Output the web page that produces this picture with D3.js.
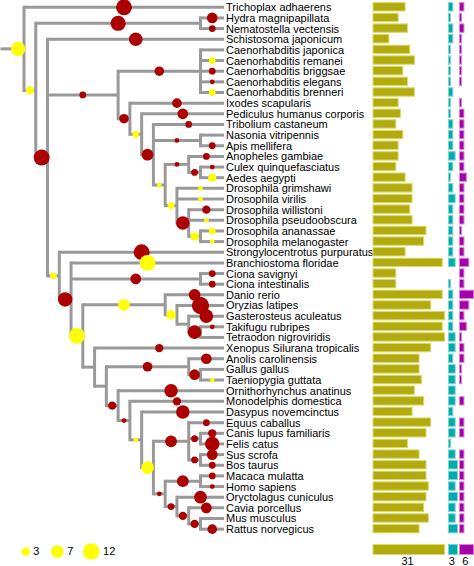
<!DOCTYPE html>
<html><head><meta charset="utf-8">
<script src="https://cdn.jsdelivr.net/npm/d3@7/dist/d3.min.js"></script>
<style>body{margin:0;background:#fff}svg{display:block}</style>
</head><body>
<svg id="chart" width="474" height="566"></svg>
<script>
// ---------- DATA ----------
const species = ["Trichoplax adhaerens","Hydra magnipapillata","Nematostella vectensis","Schistosoma japonicum",
"Caenorhabditis japonica","Caenorhabditis remanei","Caenorhabditis briggsae","Caenorhabditis elegans","Caenorhabditis brenneri",
"Ixodes scapularis","Pediculus humanus corporis","Tribolium castaneum","Nasonia vitripennis","Apis mellifera",
"Anopheles gambiae","Culex quinquefasciatus","Aedes aegypti","Drosophila grimshawi","Drosophila virilis",
"Drosophila willistoni","Drosophila pseudoobscura","Drosophila ananassae","Drosophila melanogaster",
"Strongylocentrotus purpuratus","Branchiostoma floridae","Ciona savignyi","Ciona intestinalis","Danio rerio",
"Oryzias latipes","Gasterosteus aculeatus","Takifugu rubripes","Tetraodon nigroviridis","Xenopus Silurana tropicalis",
"Anolis carolinensis","Gallus gallus","Taeniopygia guttata","Ornithorhynchus anatinus","Monodelphis domestica",
"Dasypus novemcinctus","Equus caballus","Canis lupus familiaris","Felis catus","Sus scrofa","Bos taurus",
"Macaca mulatta","Homo sapiens","Oryctolagus cuniculus","Cavia porcellus","Mus musculus","Rattus norvegicus"];

const oliveValues = [14,11,15,7,16,18,13,15,18,11, 12,10,13,11,11,10,14,17,17,16, 17,23,22,14,30,10,10,30,25,31, 30,31,25,20,20,21,18,22,17,25, 23,15,20,23,23,24,23,22,24,20];
const cyanValues = [1.5,0.75,1.5,1.5,0.75,0.75,0.75,0.75,1.5,0.75, 0.75,1.5,1.5,1.5,2.25,1.5,0.75,1.5,2.25,1.5, 1.5,1.5,1.5,1.5,2.25,0,0.75,1.5,1.5,1.5, 1.5,2.25,2.25,1.5,2.25,2.25,2.25,2.25,1.5,2.25, 2.25,0.75,2.25,3,3,2.25,3,2.25,2.25,3];
const magentaValues = [2,1,2,1,1,1,1,1,0,1, 2,2,2,2,2,2,3,2,2,2, 2,1,2,2,4,2,2,6,4,2, 3,1,2,2,1,1,0,2,0,2, 2,0,2,2,2,2,2,2,2,2];
const columnMax = [31, 3, 6];
const legendSizes = [3, 7, 12];

// tree topology: [clade, children...]
const clades = [
 ["root","Trichoplax adhaerens","n1"],
 ["n1","n2","n3"],
 ["n2","Hydra magnipapillata","Nematostella vectensis"],
 ["n3","Schistosoma japonicum","ecd","deu"],
 ["ecd","cae","art"],
 ["cae","Caenorhabditis japonica","Caenorhabditis remanei","Caenorhabditis briggsae","Caenorhabditis elegans","Caenorhabditis brenneri"],
 ["art","Ixodes scapularis","pan"],
 ["pan","Pediculus humanus corporis","hol"],
 ["hol","Tribolium castaneum","hym","dip"],
 ["hym","Nasonia vitripennis","Apis mellifera"],
 ["dip","mos","dro"],
 ["mos","Anopheles gambiae","cul"],
 ["cul","Culex quinquefasciatus","Aedes aegypti"],
 ["dro","Drosophila grimshawi","Drosophila virilis","sop"],
 ["sop","Drosophila willistoni","Drosophila pseudoobscura","mel"],
 ["mel","Drosophila ananassae","Drosophila melanogaster"],
 ["deu","Strongylocentrotus purpuratus","cho"],
 ["cho","Branchiostoma floridae","cio","ver"],
 ["cio","Ciona savignyi","Ciona intestinalis"],
 ["ver","fis","tpd"],
 ["fis","Danio rerio","aca"],
 ["aca","Oryzias latipes","gas"],
 ["gas","Gasterosteus aculeatus","tet"],
 ["tet","Takifugu rubripes","Tetraodon nigroviridis"],
 ["tpd","Xenopus Silurana tropicalis","amn"],
 ["amn","sau","mam"],
 ["sau","Anolis carolinensis","bir"],
 ["bir","Gallus gallus","Taeniopygia guttata"],
 ["mam","Ornithorhynchus anatinus","the"],
 ["the","Monodelphis domestica","eut"],
 ["eut","Dasypus novemcinctus","bor"],
 ["bor","lau","euc"],
 ["lau","Equus caballus","car","cet"],
 ["car","Canis lupus familiaris","Felis catus"],
 ["cet","Sus scrofa","Bos taurus"],
 ["euc","pri","gli"],
 ["pri","Macaca mulatta","Homo sapiens"],
 ["gli","Oryctolagus cuniculus","rod"],
 ["rod","Cavia porcellus","mur"],
 ["mur","Mus musculus","Rattus norvegicus"]
];

const redCounts = [["Trichoplax adhaerens",11],["n2",10],["Hydra magnipapillata",5],["Nematostella vectensis",2],["n3",11],
["Schistosoma japonicum",8],["ecd",2],["cae",4],["Caenorhabditis briggsae",2],["Caenorhabditis elegans",1],["art",4],
["Ixodes scapularis",4],["Pediculus humanus corporis",5],["hol",6],["Tribolium castaneum",2],["hym",1],["Apis mellifera",2],
["mos",1],["Anopheles gambiae",2],["cul",2],["Culex quinquefasciatus",1],["sop",8],["Drosophila willistoni",3],
["Strongylocentrotus purpuratus",11],["cho",9],["cio",5],["Ciona savignyi",2],["Ciona intestinalis",2],["Danio rerio",6],
["Oryzias latipes",13],["Gasterosteus aculeatus",8],["tet",8],["Takifugu rubripes",1],["Xenopus Silurana tropicalis",3],
["sau",4],["Anolis carolinensis",5],["bir",5],["mam",3],["Ornithorhynchus anatinus",8],["the",1],["Monodelphis domestica",3],
["Dasypus novemcinctus",8],["lau",6],["Equus caballus",2],["car",2],["Canis lupus familiaris",3],["Felis catus",9],["cet",2],
["Sus scrofa",5],["Bos taurus",2],["euc",1],["pri",6],["Macaca mulatta",2],["Homo sapiens",1],["gli",2],
["Oryctolagus cuniculus",7],["rod",3],["Cavia porcellus",5],["mur",3],["Rattus norvegicus",4]];
const yellowCounts = [["root",9],["n1",3],["Caenorhabditis remanei",2],["Caenorhabditis brenneri",2],["pan",2],["dip",1],
["Aedes aegypti",3],["dro",2],["Drosophila grimshawi",1],["Drosophila virilis",1],["Drosophila pseudoobscura",1],["mel",3],
["Drosophila ananassae",2],["Drosophila melanogaster",1],["deu",2],["Branchiostoma floridae",11],["ver",11],["fis",6],
["aca",4],["Taeniopygia guttata",1],["eut",1],["bor",7]];

// ---------- LAYOUT ----------
const RED = "#aa0000", YELLOW = "#ffff00", BRANCH = "#999999";
const svg = d3.select("#chart");
const font = "'Liberation Sans', Arial, Helvetica, sans-serif";

const y = d3.scaleLinear().domain([0, species.length - 1]).range([7.3, 529.15]);
const x = d3.scaleLinear().domain([0, 17]).range([24, 224]);
const r = d3.scaleSqrt().domain([0, 12]).range([0, 8.3]);

const kids = new Map(clades.map(c => [c[0], c.slice(1)]));
function build(name) { const ch = kids.get(name); return ch ? {name, children: ch.map(build)} : {name}; }
const root = d3.hierarchy(build("root"));
const leafIdx = new Map(species.map((s, i) => [s, i]));
root.eachAfter(n => {
  if (!n.children) { n.level = 17; n.yv = y(leafIdx.get(n.data.name)); }
  else {
    const inner = n.children.filter(c => c.children);
    n.level = inner.length ? d3.min(inner, c => c.level) - 1 : 15;
    n.yv = (n.children[0].yv + n.children[n.children.length - 1].yv) / 2;
  }
});

const gTree = svg.append("g");
gTree.append("line").attr("x1", x(-2)).attr("x2", x(0)).attr("y1", root.yv).attr("y2", root.yv)
  .attr("stroke", BRANCH).attr("stroke-width", 3);
gTree.selectAll("line.h").data(root.descendants().filter(d => d.parent)).join("line").attr("class", "h")
  .attr("x1", d => x(d.parent.level)).attr("x2", d => x(d.level))
  .attr("y1", d => d.yv).attr("y2", d => d.yv)
  .attr("stroke", BRANCH).attr("stroke-width", 3);
gTree.selectAll("line.v").data(root.descendants().filter(d => d.children)).join("line").attr("class", "v")
  .attr("x1", d => x(d.level)).attr("x2", d => x(d.level))
  .attr("y1", d => d.children[0].yv).attr("y2", d => d.children[d.children.length - 1].yv)
  .attr("stroke", BRANCH).attr("stroke-width", 3).attr("stroke-linecap", "square");

const nodeByName = new Map(root.descendants().map((d, i) => { d.order = i; return [d.data.name, d]; }));
const circ = redCounts.map(([n, v]) => ({node: nodeByName.get(n), v, c: RED}))
  .concat(yellowCounts.map(([n, v]) => ({node: nodeByName.get(n), v, c: YELLOW})))
  .sort((a, b) => a.node.order - b.node.order);
svg.append("g").selectAll("circle").data(circ).join("circle")
  .attr("cx", d => (x(d.node.parent ? d.node.parent.level : -1) + x(d.node.level)) / 2)
  .attr("cy", d => d.node.yv)
  .attr("r", d => r(d.v))
  .attr("fill", d => d.c);

svg.append("g").selectAll("text").data(species).join("text")
  .attr("x", x(17) + 2).attr("y", (d, i) => y(i)).attr("dy", "0.36em")
  .attr("font-family", font).attr("font-size", 11).attr("fill", "#000").text(d => d);

const defs = svg.append("defs");
function pat(id, bg, dot) {
  const p = defs.append("pattern").attr("id", id).attr("patternUnits", "userSpaceOnUse").attr("width", 3).attr("height", 3);
  p.append("rect").attr("width", 3).attr("height", 3).attr("fill", bg);
  p.append("rect").attr("x", 1).attr("y", 1).attr("width", 1).attr("height", 1).attr("fill", dot);
}
pat("pOlive", "#b4ad00", "#9d9b7c");
pat("pCyan", "#00adad", "#04a6a6");
pat("pMag", "#a600aa", "#a600aa");

const cols = [
  {vals: oliveValues, x0: 373, w: 72, fill: "url(#pOlive)", stroke: "#dada6a"},
  {vals: cyanValues, x0: 448.5, w: 9.4, fill: "url(#pCyan)", stroke: "#7dd2d2"},
  {vals: magentaValues, x0: 459.5, w: 14.6, fill: "url(#pMag)", stroke: "#d58ad8"}
];
const barH = 9.4;
cols.forEach((c, k) => {
  const s = d3.scaleLinear().domain([0, columnMax[k]]).range([0, c.w]);
  svg.append("g").selectAll("rect").data(c.vals).join("rect")
    .attr("x", c.x0).attr("y", (d, i) => y(i) - barH / 2)
    .attr("width", d => Math.max(0, s(d) - 0.4)).attr("height", barH - 1)
    .attr("fill", c.fill).attr("stroke", c.stroke).attr("stroke-width", 1)
    .attr("display", d => d > 0 ? null : "none");
  svg.append("rect").attr("x", c.x0).attr("y", 544.5).attr("width", s(columnMax[k]) - 0.4).attr("height", 10)
    .attr("fill", c.fill).attr("stroke", c.stroke).attr("stroke-width", 1);
  svg.append("text").attr("x", c.x0 + s(columnMax[k]) / 2 - 1.5).attr("y", 565)
    .attr("text-anchor", "middle").attr("font-family", font).attr("font-size", 11).text(columnMax[k]);
});

const legX = [25.7, 57.3, 91.3];
const lg = svg.append("g");
legendSizes.forEach((v, i) => {
  lg.append("circle").attr("cx", legX[i]).attr("cy", 551.5).attr("r", r(v)).attr("fill", YELLOW);
  lg.append("text").attr("x", legX[i] + r(v) + 3.5).attr("y", 551.5).attr("dy", "0.36em")
    .attr("font-family", font).attr("font-size", 11).text(v);
});
</script>
</body></html>
